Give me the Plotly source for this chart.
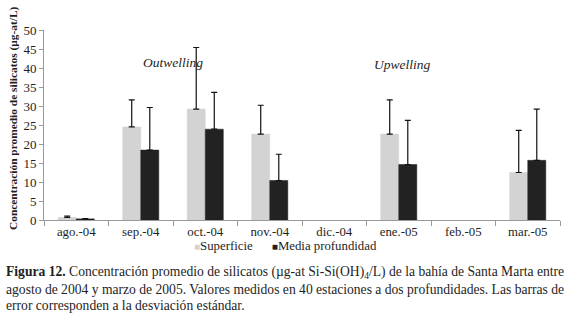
import plotly.graph_objects as go

months = ["ago.-04", "sep.-04", "oct.-04", "nov.-04", "dic.-04", "ene.-05", "feb.-05", "mar.-05"]
superficie = [0.7, 24.5, 29.2, 22.6, None, 22.6, None, 12.5]
superficie_sd = [0.35, 7.1, 16.2, 7.6, None, 9.0, None, 11.1]
media = [0.3, 18.4, 23.9, 10.4, None, 14.6, None, 15.7]
media_sd = [0.05, 11.2, 9.7, 6.9, None, 11.6, None, 13.5]
y_ticks = [0, 5, 10, 15, 20, 25, 30, 35, 40, 45, 50]
series_names = ["Superficie", "Media profundidad"]
series_colors = ["#d3d3d3", "#222222"]

W, H = 577, 324
L, R, T, B = 44, 17, 30, 104
pw, ph = W - L - R, H - T - B

def px_x(p):
    return (p - L) / pw

def px_y(p):
    return (H - B - p) / ph

FONT = "Liberation Serif"
TXT = "#1e1e1e"

fig = go.Figure()
for name, col, vals, sd in zip(series_names, series_colors, [superficie, media], [superficie_sd, media_sd]):
    fig.add_trace(go.Bar(
        x=months, y=vals, name=name,
        marker=dict(color=col, line=dict(color=col, width=0.5)),
        error_y=dict(type="data", array=sd, arrayminus=[0] * len(months),
                     symmetric=False, color="#111111", thickness=1.2, width=3),
    ))

fig.update_layout(
    width=W, height=H,
    margin=dict(l=L, r=R, t=T, b=B),
    paper_bgcolor="white", plot_bgcolor="white",
    barmode="group", bargap=0.44, bargroupgap=0,
    font=dict(family=FONT, size=12, color=TXT),
    showlegend=False,
    xaxis=dict(type="category", categoryorder="array", categoryarray=months,
               showline=True, linecolor="#9a9a9a", linewidth=1,
               ticks="outside", tickson="boundaries", ticklen=5, tickcolor="#9a9a9a",
               showgrid=False, zeroline=False,
               tickfont=dict(family=FONT, size=12.8, color=TXT)),
    yaxis=dict(range=[0, 50], tickvals=y_ticks, showline=True, linecolor="#9a9a9a",
               linewidth=1, ticks="outside", ticklen=4, tickcolor="#9a9a9a",
               showgrid=False, zeroline=False,
               tickfont=dict(family=FONT, size=13, color=TXT)),
)

legend_text = "&nbsp;&nbsp;&nbsp;&nbsp;&nbsp;&nbsp;".join(
    f"<span style='color:{c};font-size:10px'>■</span>{n}" for n, c in zip(series_names, series_colors)
)

ann = [
    dict(text="<b>Concentración promedio de silicatos (µg-at/L)</b>", textangle=-90,
         xref="paper", yref="paper", x=px_x(13), y=px_y(118), xanchor="center", yanchor="middle",
         showarrow=False, font=dict(family=FONT, size=11.4, color=TXT)),
    dict(text="<i>Outwelling</i>", xref="paper", yref="paper", x=px_x(141), y=px_y(53),
         showarrow=False, font=dict(family=FONT, size=13.5, color=TXT)),
    dict(text="<i>Upwelling</i>", xref="paper", yref="paper", x=px_x(432), y=px_y(55),
         showarrow=False, font=dict(family=FONT, size=13.5, color=TXT)),
    dict(text=legend_text, xref="paper", yref="paper", x=px_x(285), y=px_y(246),
         xanchor="center", yanchor="middle",
         showarrow=False, font=dict(family=FONT, size=12.8, color=TXT)),
    dict(text="<b>Figura 12.</b> Concentración promedio de silicatos (µg-at Si-Si(OH)<sub>4</sub>/L) de la bahía de Santa Marta entre",
         xref="paper", yref="paper", x=px_x(4), y=px_y(272), xanchor="left", yanchor="middle",
         showarrow=False, font=dict(family=FONT, size=13.6, color=TXT)),
    dict(text="agosto de 2004 y marzo de 2005. Valores medidos en 40 estaciones a dos profundidades. Las barras de",
         xref="paper", yref="paper", x=px_x(4), y=px_y(289), xanchor="left", yanchor="middle",
         showarrow=False, font=dict(family=FONT, size=13.6, color=TXT)),
    dict(text="error corresponden a la desviación estándar.",
         xref="paper", yref="paper", x=px_x(4), y=px_y(305), xanchor="left", yanchor="middle",
         showarrow=False, font=dict(family=FONT, size=13.6, color=TXT)),
]
fig.update_layout(annotations=ann)

fig.write_html("out.html", config={"displayModeBar": False},
               post_script="document.body.style.margin='0';")
